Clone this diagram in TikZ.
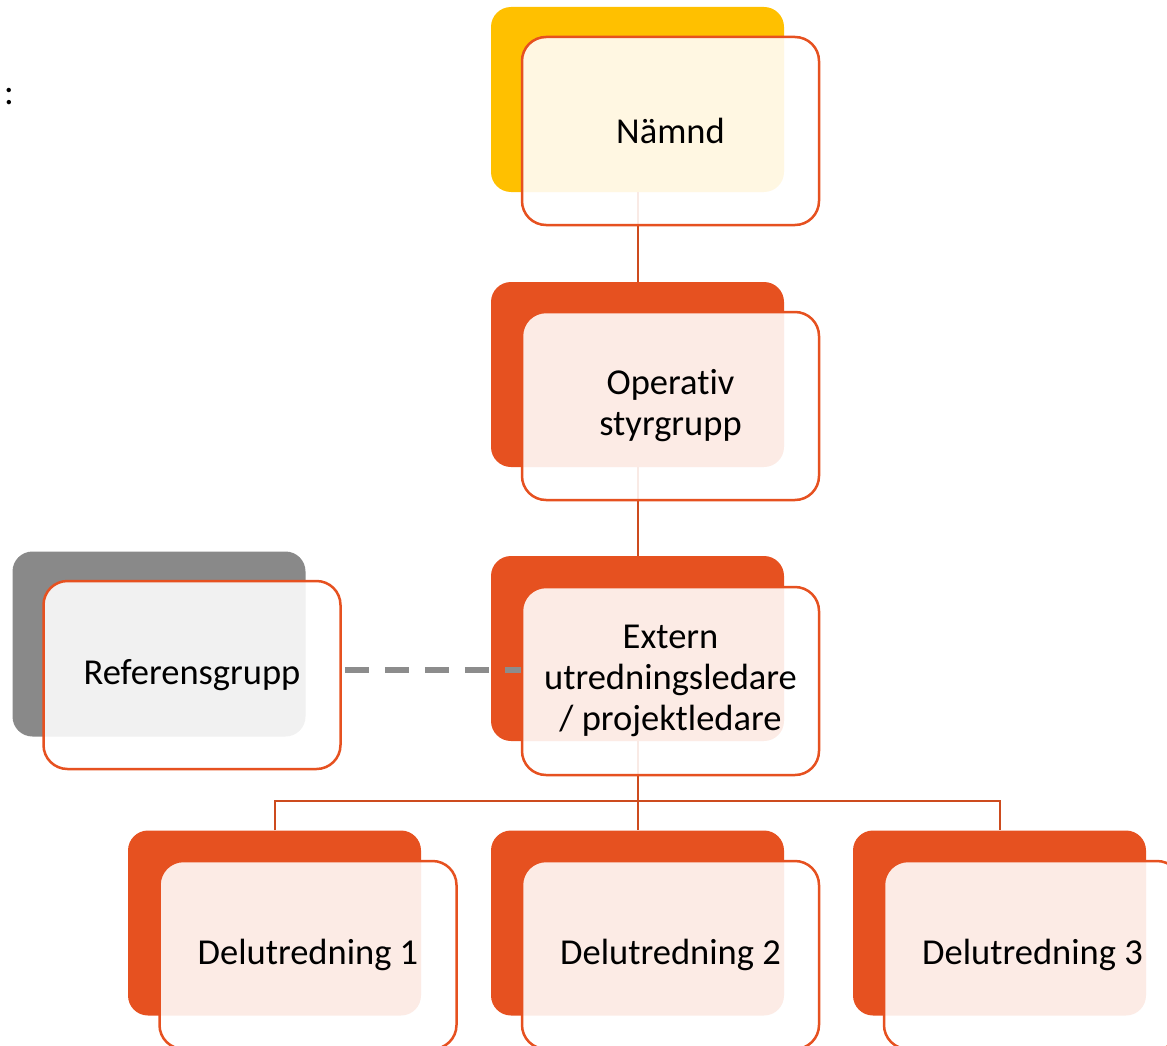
\documentclass[tikz,border=0pt]{standalone}
\usepackage{fontspec}
\setmainfont[Ligatures={NoCommon}]{Carlito}
\definecolor{org}{RGB}{230,81,32}
\definecolor{ylw}{RGB}{255,192,0}
\definecolor{gry}{RGB}{137,137,137}
\definecolor{lin}{RGB}{205,75,30}
\definecolor{dsh}{RGB}{140,140,140}
\begin{document}
\begin{tikzpicture}[x=1pt,y=-1pt,
  backbox/.style={rounded corners=20pt,minimum width=293pt,minimum height=185pt,inner sep=0pt,draw=none},
  frontbox/.style={rounded corners=24pt,minimum width=297pt,minimum height=188pt,inner sep=0pt,draw=org,line width=2.5pt,fill=white,fill opacity=0.885,text opacity=1,align=center,font=\fontsize{36.5pt}{41pt}\selectfont},
  conn/.style={draw=lin,line width=2pt}]
\useasboundingbox (0,0) rectangle (1167,1046);
% back boxes
\node[backbox,fill=ylw] (nb) at (637.5,99.5) {};
\node[backbox,fill=org] (ob) at (637.5,374.5) {};
\node[backbox,fill=org] (eb) at (637.5,648.5) {};
\node[backbox,fill=gry] (rb) at (159,644) {};
\node[backbox,fill=org] (d1b) at (274.5,923) {};
\node[backbox,fill=org] (d2b) at (637.5,923) {};
\node[backbox,fill=org] (d3b) at (999.5,923) {};
% connectors
\coordinate (bus) at (637.5,801);
\draw[conn] (nb.south) -- (ob.north);
\draw[conn] (ob.south) -- (eb.north);
\draw[conn] (eb.south) -- (bus);
\draw[conn] (d1b.north) -- (d1b.north |- bus) -- (d3b.north |- bus) -- (d3b.north);
\draw[conn] (bus) -- (d2b.north);
% front boxes
\node[frontbox] (nf) at (670.5,131) {Nämnd};
\node[frontbox] (of) at (670.5,406) {Operativ\\styrgrupp};
\node[frontbox] (ef) at (670.5,681) {Extern\\utredningsledare\\/ projektledare};
\node[frontbox] (rf) at (192,675) {Referensgrupp};
\node[frontbox] (d1f) at (308,955) {\raisebox{-2pt}{Delutredning 1}};
\node[frontbox] (d2f) at (670.5,955) {\raisebox{-2pt}{Delutredning 2}};
\node[frontbox] (d3f) at (1032.5,955) {\raisebox{-2pt}{Delutredning 3}};
% dashed link
\draw[draw=dsh,line width=6pt,dash pattern=on 24pt off 16pt,shorten <=3pt]
  ([yshift=5pt]rf.east) -- ([yshift=5pt]rf.east -| ef.west);
% colon
\node[anchor=base west,inner sep=0pt,font=\fontsize{36.5pt}{40.5pt}\selectfont] (colon) at (4,105) {:};
\end{tikzpicture}
\end{document}
